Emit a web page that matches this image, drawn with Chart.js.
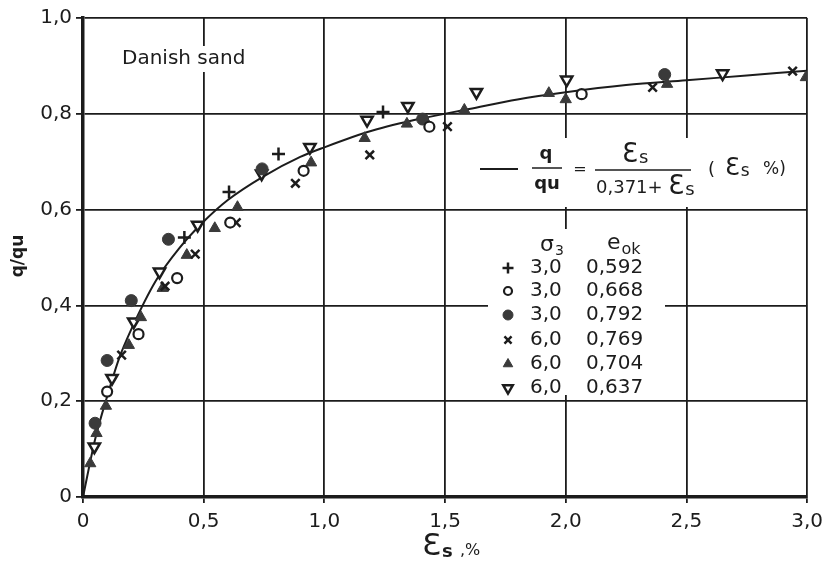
<!DOCTYPE html>
<html>
<head>
<meta charset="utf-8">
<script src="https://cdn.jsdelivr.net/npm/chart.js@4.4.1/dist/chart.umd.min.js"></script>
<style>
  html, body { margin: 0; padding: 0; background: #fff; }
  #wrap { width: 830px; height: 571px; }
</style>
</head>
<body>
<div id="wrap"><canvas id="c" width="830" height="571"></canvas></div>
<script>
// tick labels (comma decimals as in the figure)
var xTickLabels = ['0', '0,5', '1,0', '1,5', '2,0', '2,5', '3,0'];
var yTickLabels = ['0', '0,2', '0,4', '0,6', '0,8', '1,0'];

// fitted curve
var curveX = [0, 0.05, 0.1, 0.15, 0.2, 0.3, 0.4, 0.5, 0.6, 0.75, 0.9, 1.0, 1.2, 1.4, 1.6, 1.8, 2.0, 2.25, 2.5, 2.75, 3.0];
var curveY = [0, 0.12, 0.21, 0.29, 0.35, 0.45, 0.52, 0.575, 0.62, 0.67, 0.71, 0.73, 0.765, 0.79, 0.81, 0.83, 0.845, 0.86, 0.87, 0.88, 0.89];

// test series  (sigma3, e_ok)
var plusX = [0.42, 0.605, 0.81, 1.243];
var plusY = [0.542, 0.637, 0.716, 0.804];

var openCircX = [0.10, 0.23, 0.39, 0.61, 0.914, 1.435, 2.066];
var openCircY = [0.22, 0.34, 0.457, 0.573, 0.681, 0.773, 0.841];

var fillCircX = [0.05, 0.10, 0.20, 0.354, 0.742, 1.407, 2.41];
var fillCircY = [0.154, 0.285, 0.41, 0.538, 0.685, 0.789, 0.882];

var crossX = [0.16, 0.34, 0.465, 0.635, 0.88, 1.188, 1.51, 2.36, 2.94];
var crossY = [0.296, 0.44, 0.507, 0.573, 0.655, 0.714, 0.773, 0.855, 0.889];

var triX = [0.03, 0.056, 0.095, 0.19, 0.24, 0.33, 0.43, 0.546, 0.64, 0.945, 1.167, 1.342, 1.42, 1.58, 1.93, 2.0, 2.42, 2.995];
var triY = [0.07, 0.133, 0.19, 0.317, 0.375, 0.436, 0.505, 0.561, 0.605, 0.698, 0.749, 0.779, 0.785, 0.808, 0.843, 0.83, 0.862, 0.876];

var downX = [0.047, 0.12, 0.21, 0.317, 0.475, 0.74, 0.94, 1.177, 1.346, 1.63, 2.004, 2.65];
var downY = [0.105, 0.248, 0.366, 0.47, 0.568, 0.675, 0.73, 0.787, 0.816, 0.845, 0.871, 0.884];

var legendSigma = ['3,0', '3,0', '3,0', '6,0', '6,0', '6,0'];
var legendE = ['0,592', '0,668', '0,792', '0,769', '0,704', '0,637'];

var INK = '#1c1c1c';
var DARK = '#3a3a3a';
var FONT = 'DejaVu Sans';

function pts(xs, ys) {
  var out = [];
  for (var i = 0; i < xs.length; i++) out.push({x: xs[i], y: ys[i]});
  return out;
}

var markerSets = [
  {data: pts(plusX, plusY), pointStyle: 'cross', pointRadius: 6.5, pointBorderWidth: 2.5, pointBackgroundColor: INK, pointBorderColor: INK, rotation: 0},
  {data: pts(openCircX, openCircY), pointStyle: 'circle', pointRadius: 5, pointBorderWidth: 2.2, pointBackgroundColor: '#fff', pointBorderColor: INK, rotation: 0},
  {data: pts(fillCircX, fillCircY), pointStyle: 'circle', pointRadius: 6, pointBorderWidth: 1, pointBackgroundColor: DARK, pointBorderColor: DARK, rotation: 0},
  {data: pts(crossX, crossY), pointStyle: 'crossRot', pointRadius: 6, pointBorderWidth: 2.5, pointBackgroundColor: INK, pointBorderColor: INK, rotation: 0},
  {data: pts(triX, triY), pointStyle: 'triangle', pointRadius: 6.5, pointBorderWidth: 1, pointBackgroundColor: DARK, pointBorderColor: DARK, rotation: 0},
  {data: pts(downX, downY), pointStyle: 'triangle', pointRadius: 6.5, pointBorderWidth: 2.5, pointBackgroundColor: '#fff', pointBorderColor: INK, rotation: 180}
];

var datasets = [{
  type: 'line',
  data: pts(curveX, curveY),
  borderColor: INK,
  borderWidth: 2,
  pointRadius: 0,
  cubicInterpolationMode: 'monotone',
  fill: false,
  order: 2
}];
markerSets.forEach(function (m) {
  datasets.push({
    type: 'scatter',
    data: m.data,
    pointStyle: m.pointStyle,
    pointRadius: m.pointRadius,
    pointBorderWidth: m.pointBorderWidth,
    pointBackgroundColor: m.pointBackgroundColor,
    pointBorderColor: m.pointBorderColor,
    pointRotation: m.rotation,
    order: 1
  });
});

function sub(ctx, x, y, big, bigFont, small, smallFont, dy) {
  ctx.font = bigFont;
  ctx.fillText(big, x, y);
  var w = ctx.measureText(big).width;
  ctx.font = smallFont;
  ctx.fillText(small, x + w + 1, y + dy);
  return w + 1 + ctx.measureText(small).width;
}

var decor = {
  id: 'decor',
  beforeDatasetsDraw: function (chart) {
    var ctx = chart.ctx;
    ctx.save();
    ctx.fillStyle = '#fff';
    ctx.fillRect(118, 46, 138, 26);   // Danish sand
    ctx.fillRect(470, 138, 328, 69);  // formula
    ctx.fillRect(488, 229, 177, 166); // legend
    ctx.restore();
  },
  afterDraw: function (chart) {
    var ctx = chart.ctx;
    ctx.save();
    ctx.fillStyle = INK;
    ctx.strokeStyle = INK;
    ctx.textBaseline = 'middle';
    ctx.textAlign = 'left';

    ctx.font = '20px ' + FONT;
    ctx.fillText('Danish sand', 122, 59);

    // formula
    ctx.lineWidth = 2;
    ctx.beginPath(); ctx.moveTo(480, 169); ctx.lineTo(518, 169); ctx.stroke();
    ctx.lineWidth = 1.5;
    ctx.beginPath(); ctx.moveTo(532, 168); ctx.lineTo(562, 168); ctx.stroke();
    ctx.beginPath(); ctx.moveTo(595, 170); ctx.lineTo(691, 170); ctx.stroke();
    ctx.textAlign = 'center';
    ctx.font = 'bold 18px ' + FONT;
    ctx.fillText('q', 546, 154);
    ctx.fillText('qu', 547, 184);
    ctx.font = '16px ' + FONT;
    ctx.fillText('=', 580, 170);
    ctx.textAlign = 'left';
    sub(ctx, 622, 155, '\u0190', '26px ' + FONT, 's', '18px ' + FONT, 3);
    ctx.font = '18px ' + FONT;
    var w = ctx.measureText('0,371+ ').width;
    ctx.fillText('0,371+ ', 596, 188);
    sub(ctx, 596 + w, 187, '\u0190', '26px ' + FONT, 's', '18px ' + FONT, 3);
    ctx.font = '18px ' + FONT;
    ctx.fillText('(', 708, 170);
    sub(ctx, 725, 169, '\u0190', '24px ' + FONT, 's', '17px ' + FONT, 3);
    ctx.font = '17px ' + FONT;
    ctx.fillText('%)', 763, 170);

    // legend table
    sub(ctx, 540, 245, '\u03c3', '22px ' + FONT, '3', '14px ' + FONT, 6);
    sub(ctx, 607, 243, 'e', '22px ' + FONT, 'ok', '16px ' + FONT, 7);
    var rowY = [268, 291, 315, 340, 364, 388];
    for (var i = 0; i < rowY.length; i++) {
      var m = markerSets[i];
      ctx.save();
      ctx.fillStyle = m.pointBackgroundColor;
      ctx.strokeStyle = m.pointBorderColor;
      ctx.lineWidth = m.pointBorderWidth;
      Chart.helpers.drawPoint(ctx, {
        pointStyle: m.pointStyle,
        radius: m.pointRadius - 1,
        rotation: m.rotation,
        borderWidth: m.pointBorderWidth
      }, 508, rowY[i]);
      ctx.restore();
      ctx.fillStyle = INK;
      ctx.font = '20px ' + FONT;
      ctx.fillText(legendSigma[i], 530, rowY[i]);
      ctx.fillText(legendE[i], 586, rowY[i]);
    }

    // axis titles
    ctx.save();
    ctx.translate(19, 256);
    ctx.rotate(-Math.PI / 2);
    ctx.textAlign = 'center';
    ctx.font = 'bold 17px ' + FONT;
    ctx.fillText('q/qu', 0, 0);
    ctx.restore();

    ctx.textAlign = 'left';
    sub(ctx, 422, 547, '\u0190', '31px ' + FONT, 's', 'bold 18px ' + FONT, 5);
    ctx.font = '16px ' + FONT;
    ctx.fillText(',%', 460, 551);
    ctx.restore();
  }
};

new Chart(document.getElementById('c'), {
  type: 'scatter',
  data: {datasets: datasets},
  options: {
    responsive: false,
    animation: false,
    events: [],
    layout: {padding: {left: 0, top: 18, right: 18, bottom: 0}},
    plugins: {legend: {display: false}, tooltip: {enabled: false}},
    scales: {
      x: {
        type: 'linear', min: 0, max: 3,
        afterFit: function (s) { s.height = 74; },
        ticks: {
          stepSize: 0.5, padding: 7, color: INK,
          font: {family: FONT, size: 20},
          maxRotation: 0,
          callback: function (v, i) { return xTickLabels[i]; }
        },
        grid: {color: INK, lineWidth: 1.8, tickLength: 6, drawTicks: true},
        border: {color: INK, width: 3.5}
      },
      y: {
        type: 'linear', min: 0, max: 1,
        afterFit: function (s) { s.width = 83; },
        ticks: {
          stepSize: 0.2, padding: 4, color: INK,
          font: {family: FONT, size: 20},
          callback: function (v, i) { return yTickLabels[i]; }
        },
        grid: {color: INK, lineWidth: 1.8, tickLength: 7, drawTicks: true},
        border: {color: INK, width: 3.5}
      }
    }
  },
  plugins: [decor]
});
</script>
</body>
</html>
